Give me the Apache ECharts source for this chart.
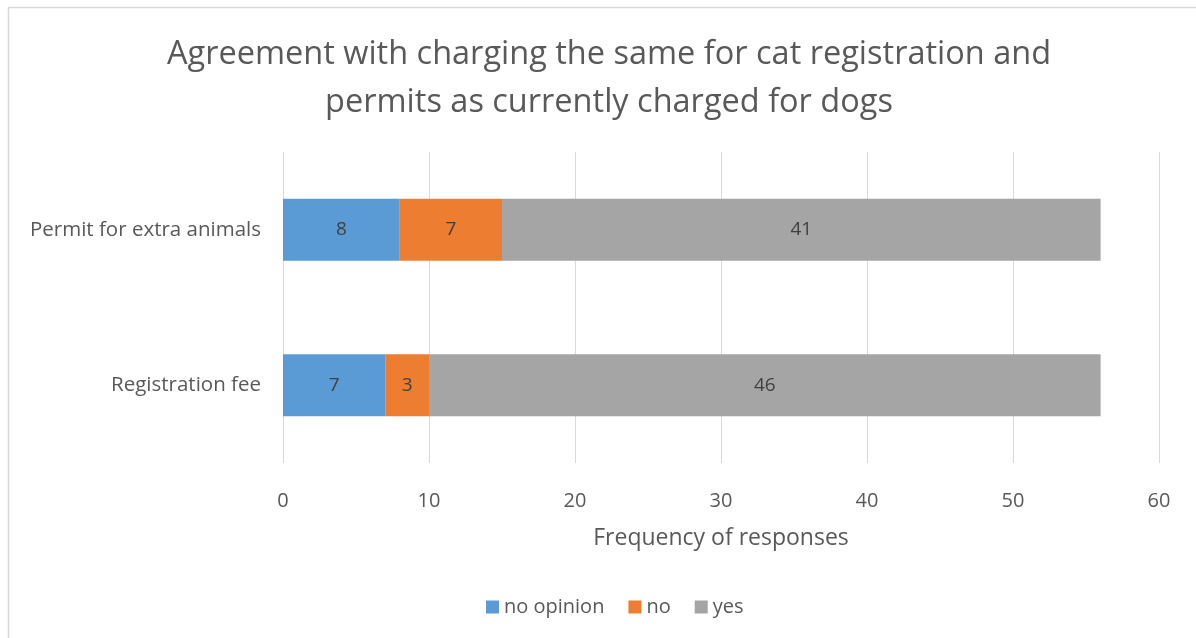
<!DOCTYPE html>
<html><head><meta charset="utf-8">
<script src="https://cdn.jsdelivr.net/npm/echarts@6/dist/echarts.min.js"></script>
<style>html,body{margin:0;padding:0;background:#fff}#c{width:1196px;height:638px}</style>
</head><body><div id="c"></div>
<script>
const categories = ['Registration fee', 'Permit for extra animals'];
const noOpinion = [7, 8];
const no = [3, 7];
const yes = [46, 41];
const seriesNames = ['no opinion', 'no', 'yes'];
const colors = ['#5B9BD5', '#ED7D31', '#A5A5A5'];
const font = 'Open Sans';
const chart = echarts.init(document.getElementById('c'));
const lbl = {show: true, position: 'inside', color: '#404040', fontSize: 19, fontFamily: font};
chart.setOption({
  animation: false,
  graphic: [{type: 'rect', shape: {x: 8.5, y: 7.5, width: 1300, height: 700}, style: {fill: 'none', stroke: '#d9d9d9', lineWidth: 1.5}}],
  title: {
    text: 'Agreement with charging the same for cat registration and\npermits as currently charged for dogs',
    left: 604, top: 26, textAlign: 'center',
    textStyle: {color: '#595959', fontSize: 32.5, fontWeight: 'normal', fontFamily: font, lineHeight: 48}
  },
  legend: {
    bottom: 16, left: 481, itemWidth: 13, itemHeight: 13, itemGap: 24, icon: 'rect',
    textStyle: {color: '#595959', fontSize: 20, fontFamily: font}
  },
  grid: {left: 283, right: 37, top: 152, bottom: 175},
  xAxis: {
    type: 'value', min: 0, max: 60, interval: 10,
    name: 'Frequency of responses', nameLocation: 'middle', nameGap: 64,
    nameTextStyle: {color: '#595959', fontSize: 23, fontFamily: font},
    axisLine: {show: false}, axisTick: {show: false},
    axisLabel: {color: '#595959', fontSize: 20, fontFamily: font, margin: 28},
    splitLine: {lineStyle: {color: '#d9d9d9', width: 1}}
  },
  yAxis: {
    type: 'category', data: categories,
    axisLine: {show: false}, axisTick: {show: false},
    axisLabel: {color: '#595959', fontSize: 20.5, fontFamily: font, margin: 22}
  },
  series: [
    {name: seriesNames[0], type: 'bar', stack: 's', data: noOpinion, itemStyle: {color: colors[0]}, label: lbl, barCategoryGap: '60%'},
    {name: seriesNames[1], type: 'bar', stack: 's', data: no, itemStyle: {color: colors[1]}, label: lbl},
    {name: seriesNames[2], type: 'bar', stack: 's', data: yes, itemStyle: {color: colors[2]}, label: lbl}
  ]
});
</script></body></html>
